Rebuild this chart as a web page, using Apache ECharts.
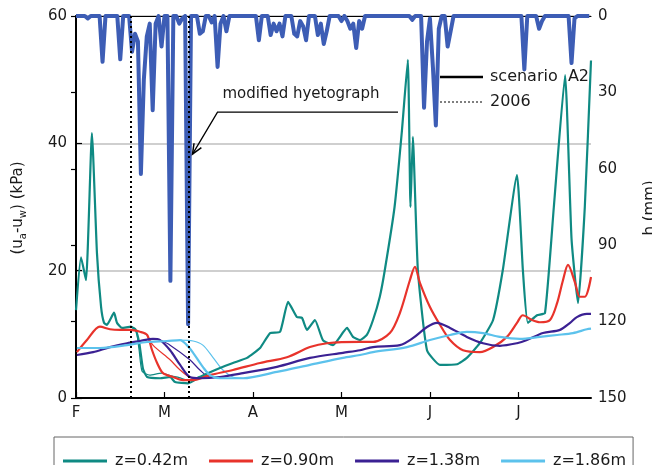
<!DOCTYPE html>
<html><head><meta charset="utf-8">
<script src="https://cdn.jsdelivr.net/npm/echarts@6/dist/echarts.min.js"></script>
<style>html,body{margin:0;padding:0;background:#fff}#c{width:652px;height:465px}</style>
</head><body><div id="c"></div><script>
// Month labels (one tick every 30 days starting 1 Feb)
const monthLabels = ['F', 'M', 'A', 'M', 'J', 'J'];

// Daily rainfall h (mm), day 0 = 1 Feb
const rainDaily = [
  0, 0, 0, 0, 1, 0, 0, 0, 0, 18,
  0, 0, 0, 0, 0, 17, 0, 0, 0, 14,
  7, 10, 62, 25, 8, 3, 37, 3, 0, 12,
  0, 0, 104, 0, 0, 3, 1, 0, 121, 0,
  0, 0, 7, 6, 0, 0, 2.5, 0, 20, 3,
  0, 6, 0, 0, 0, 0, 0, 0, 0, 0,
  0, 0, 9.5, 0, 0, 0, 7.5, 3, 6, 3,
  8, 0, 0, 0, 7, 8, 2, 4, 9.5, 0,
  0, 0, 7.5, 3, 11, 6, 0, 0, 0, 0,
  2, 0, 2, 5, 3, 12.6, 2, 5, 0, 0,
  0, 0, 0, 0, 0, 0, 0, 0, 0, 0,
  0, 0, 0, 0, 1.5, 0, 0, 0, 36, 10,
  1, 20, 43, 5, 0, 0, 12, 6, 0, 0,
  0, 0, 0, 0, 0, 0, 0, 0, 0, 0,
  0, 0, 0, 0, 0, 0, 0, 0, 0, 0,
  0, 0, 21, 0, 0, 0, 0, 5, 2, 0,
  0, 0, 0, 0, 0, 0, 0, 0, 18.5, 1,
  0, 0, 0, 0, 0
];

// Matric suction (kPa) at each depth: [day, value]
const suction042 = [
  [0, 13.8], [1.7, 22.1], [3.4, 18.5], [5.4, 41.6], [7.1, 22.8], [8.5, 14.3], [9.5, 11.8], [10.5, 11.5],
  [12.9, 13.4], [13.9, 11.8], [15.6, 11.0], [18.6, 11.2], [20.3, 10.6], [21.5, 8.5], [22.7, 4.6], [24.1, 3.3],
  [28.5, 3.1], [31.9, 3.3], [33.6, 2.5], [38, 2.3], [42, 3.3], [48.8, 4.7], [53.2, 5.5], [58, 6.3],
  [62.4, 7.85], [65.8, 10.2], [69.2, 10.4], [71.9, 15.1], [74.9, 12.7], [76.6, 12.6], [78.3, 10.7], [81, 12.25],
  [83.7, 9.1], [87.1, 8.3], [91.9, 11.0], [93.9, 9.6], [96.3, 9.1], [98.6, 9.9], [100.7, 12.25], [103, 15.9],
  [104.7, 20.1], [108, 30], [110.5, 42], [112.5, 53.1], [113.4, 30], [114.2, 41], [115.9, 20.1], [119, 7.5],
  [123.4, 5.2], [129.2, 5.3], [132.5, 6.3], [136.9, 8.6], [141.4, 12.25], [144.7, 20.1], [149.5, 35],
  [151.5, 20.1], [153.2, 11.8], [156.3, 13.0], [159, 13.35], [162, 30], [165.8, 50.7], [168, 25],
  [170.2, 14.9], [172.5, 30], [174.6, 53]
];
const suction042b = [
  [18.6, 11.2], [20.3, 10.8], [21.4, 7.5], [22.4, 4.2], [25, 3.6], [29, 3.9], [32, 3.5], [35, 3.2],
  [38, 2.8], [42, 3.4]
];
const suction090 = [
  [0.3, 7.2], [3.7, 9.1], [8.1, 11.2], [11.5, 10.8], [14.9, 10.7], [18.3, 10.7], [21.7, 10.4], [24.1, 9.9],
  [25.8, 7.5], [27.5, 5.5], [29.5, 3.9], [32.9, 3.3], [36.3, 2.8], [39.7, 2.8], [45.4, 3.6], [53.2, 4.4],
  [62.4, 5.5], [71.5, 6.4], [79.3, 8.0], [85.1, 8.6], [96.3, 8.8], [100.7, 8.8], [106.4, 10.2], [109.8, 13.35],
  [113.2, 18.5], [114.9, 20.6], [116.6, 18.1], [120, 14.3], [123.4, 11.5], [126.8, 9.1], [131.2, 7.5],
  [136.9, 7.2], [141.4, 8.0], [146.1, 9.6], [149.5, 11.8], [151.5, 13.0], [154.6, 12.25], [157.3, 11.9],
  [160.7, 12.25], [163.1, 14.9], [165.1, 18.5], [166.8, 20.9], [169.2, 18.1], [170.8, 15.9], [172.5, 15.9],
  [174.6, 19]
];
const suction090b = [
  [24.1, 9.9], [26.1, 8.3], [31.9, 6.0], [35.3, 4.4], [39.7, 3.1], [45.4, 3.6]
];
const suction138 = [
  [0.3, 6.75], [5.8, 7.2], [11.5, 8.0], [17.3, 8.6], [21.7, 8.95], [26.1, 9.3], [28.5, 9.1], [31.9, 7.5],
  [35.3, 5.2], [38.6, 3.3], [42, 3.1], [48.8, 3.3], [56.6, 3.9], [68.1, 4.9], [79.3, 6.3], [90.5, 7.1],
  [96.3, 7.5], [100.7, 8.0], [109.8, 8.3], [114.2, 9.4], [119, 11.15], [122.4, 11.8], [126.8, 11.0],
  [132.5, 9.6], [138, 8.6], [143.7, 8.2], [149.5, 8.6], [152.9, 9.1], [158.3, 10.2], [164.1, 10.7],
  [167.5, 11.8], [169.8, 12.7], [173.2, 13.2], [174.6, 13.2]
];
const suction138b = [
  [28.5, 9.1], [31.9, 8.3], [38.6, 6.0], [42, 4.4], [45.4, 3.3], [48.8, 3.3]
];
const suction186 = [
  [0.3, 7.85], [8.1, 7.85], [17.3, 8.3], [24.1, 8.8], [30.8, 8.95], [35.3, 9.1], [37.6, 8.3], [39.7, 7.1],
  [43, 4.9], [45.4, 3.6], [48.8, 3.1], [56.6, 3.1], [68.1, 4.1], [79.3, 5.2], [90.5, 6.3], [96.3, 6.75],
  [100.7, 7.2], [112.2, 8.0], [120, 9.1], [126.8, 9.9], [132.5, 10.4], [138, 10.2], [143.7, 9.6],
  [150.5, 9.3], [157.3, 9.6], [163.1, 9.9], [168.5, 10.2], [173.2, 10.8], [174.6, 10.9]
];
const suction186b = [
  [35.3, 9.1], [39.7, 8.95], [43, 8.3], [46.4, 6.4], [49.8, 4.4], [53.2, 3.3], [56.6, 3.1]
];

// Days marked by dotted vertical lines
const eventDays = [18.6, 38.3];

const FONT = 'DejaVu Sans';
const INK = '#1a1a1a';
const COLORS = { z042: '#0f8a83', z090: '#e8332b', z138: '#3b2193', z186: '#5cc2ec', rain: '#3d5db5' };

const chart = echarts.init(document.getElementById('c'), null, { renderer: 'canvas' });

function curve(name, data, color, width, smooth, z) {
  return {
    type: 'line', name: name, data: data, xAxisIndex: 0, yAxisIndex: 0,
    symbol: 'none', smooth: smooth, z: z,
    lineStyle: { color: color, width: width, join: 'round' },
    itemStyle: { color: color }
  };
}

chart.setOption({
  animation: false,
  backgroundColor: '#fff',
  grid: { left: 76, right: 61, top: 16, bottom: 67 },
  xAxis: [
    {
      type: 'value', min: 0, max: 174.6, interval: 30,
      axisLine: { lineStyle: { color: '#000', width: 2 } },
      axisTick: { inside: true, length: 6, lineStyle: { color: '#000', width: 1.2 } },
      axisLabel: {
        showMaxLabel: false, margin: 8, color: INK, fontSize: 15, fontFamily: FONT,
        formatter: v => (v % 30 === 0 && monthLabels[v / 30]) ? monthLabels[v / 30] : ''
      },
      splitLine: { show: false }
    },
    {
      type: 'value', position: 'top', min: 0, max: 174.6,
      axisLine: { show: true, lineStyle: { color: '#000', width: 1 } },
      axisTick: { show: false }, axisLabel: { show: false }, splitLine: { show: false }
    }
  ],
  yAxis: [
    {
      type: 'value', min: 0, max: 60, interval: 20,
      axisLine: { show: true, lineStyle: { color: '#000', width: 2 } },
      axisTick: { show: true, inside: true, length: 6, lineStyle: { color: '#000', width: 1.2 } },
      axisLabel: { margin: 9, color: INK, fontSize: 15, fontFamily: FONT },
      splitLine: { show: true, lineStyle: { color: '#cfcfcf', width: 2 } }
    },
    {
      type: 'value', position: 'right', inverse: true, min: 0, max: 150, interval: 30,
      axisLine: { show: true, lineStyle: { color: '#000', width: 1.5 } },
      axisTick: { show: true, inside: true, length: 5, lineStyle: { color: '#000', width: 1.2 } },
      axisLabel: { margin: 7, color: INK, fontSize: 15, fontFamily: FONT },
      splitLine: { show: false }
    }
  ],
  legend: {
    data: ['z=0.42m', 'z=0.90m', 'z=1.38m', 'z=1.86m'].map(n => ({ name: n, icon: 'rect' })),
    left: 54, top: 437, orient: 'horizontal',
    itemWidth: 44, itemHeight: 3, itemGap: 21,
    padding: [16, 7, 20, 9],
    borderColor: '#666', borderWidth: 1,
    textStyle: { fontSize: 16, fontFamily: FONT, color: INK, padding: [0, 0, 0, 3] }
  },
  series: [
    {
      type: 'line', name: 'rain', xAxisIndex: 0, yAxisIndex: 1,
      data: rainDaily.map((v, i) => [i, v]),
      symbol: 'none', z: 1,
      lineStyle: { color: COLORS.rain, width: 4, join: 'round' }
    },
    curve('z=0.42m (modified)', suction042b, COLORS.z042, 1.2, 0.2, 2),
    curve('z=0.90m (modified)', suction090b, COLORS.z090, 1.2, 0.3, 2),
    curve('z=1.38m (modified)', suction138b, COLORS.z138, 1.2, 0.3, 2),
    curve('z=1.86m (modified)', suction186b, COLORS.z186, 1.2, 0.3, 2),
    curve('z=0.42m', suction042, COLORS.z042, 2.2, 0.15, 3),
    curve('z=0.90m', suction090, COLORS.z090, 2.2, 0.3, 3),
    curve('z=1.38m', suction138, COLORS.z138, 2.2, 0.3, 3),
    curve('z=1.86m', suction186, COLORS.z186, 2.2, 0.3, 3),
    {
      type: 'line', name: 'events', data: [], z: 5,
      markLine: {
        silent: true, symbol: 'none', label: { show: false },
        lineStyle: { color: '#000', width: 2, type: [2, 3] },
        data: eventDays.map(d => ({ xAxis: d }))
      }
    }
  ]
});

// Annotations: axis titles, line-style key and the arrow to the modified hyetograph
const tip = chart.convertToPixel({ xAxisIndex: 0, yAxisIndex: 0 }, [eventDays[1] + 1.2, 38.3]);
const elbow = [tip[0] + 25, tip[1] - 42];
const lineEnd = [398, elbow[1]];
const ux = (tip[0] - elbow[0]), uy = (tip[1] - elbow[1]);
const len = Math.hypot(ux, uy);
const dx = ux / len, dy = uy / len;
const headLen = 11, ang = 0.4;
function rot(x, y, a) { return [x * Math.cos(a) - y * Math.sin(a), x * Math.sin(a) + y * Math.cos(a)]; }
const h1 = rot(-dx, -dy, ang), h2 = rot(-dx, -dy, -ang);

chart.setOption({
  graphic: [
    {
      type: 'text', x: 18, y: 208, rotation: Math.PI / 2, z: 10,
      style: {
        text: '{m|(u}{s|a}{m|-u}{s|w}{m|) (kPa)}',
        align: 'center', verticalAlign: 'middle', textAlign: 'center', textVerticalAlign: 'middle',
        rich: {
          m: { fontSize: 15, fontFamily: FONT, fill: INK, color: INK, lineHeight: 20, verticalAlign: 'middle' },
          s: { fontSize: 10, fontFamily: FONT, fill: INK, color: INK, lineHeight: 10, verticalAlign: 'bottom' }
        }
      }
    },
    {
      type: 'text', x: 650, y: 208, rotation: Math.PI / 2, z: 10,
      style: {
        text: 'h (mm)', fontSize: 15, fontFamily: FONT, fill: INK,
        align: 'center', verticalAlign: 'middle', textAlign: 'center', textVerticalAlign: 'middle'
      }
    },
    {
      type: 'polyline', z: 10, silent: true,
      shape: { points: [lineEnd, elbow, tip] },
      style: { stroke: '#000', lineWidth: 1.3, fill: null }
    },
    {
      type: 'polyline', z: 10, silent: true,
      shape: { points: [
        [tip[0] + h1[0] * headLen, tip[1] + h1[1] * headLen], tip,
        [tip[0] + h2[0] * headLen, tip[1] + h2[1] * headLen]
      ] },
      style: { stroke: '#000', lineWidth: 1.5, fill: null }
    },
    {
      type: 'text', x: 301, y: 94, z: 10,
      style: {
        text: 'modified hyetograph', fontSize: 15, fontFamily: FONT, fill: INK,
        align: 'center', verticalAlign: 'middle', textAlign: 'center', textVerticalAlign: 'middle'
      }
    },
    {
      type: 'line', z: 10, silent: true,
      shape: { x1: 440, y1: 77, x2: 483, y2: 77 },
      style: { stroke: '#000', lineWidth: 2.5 }
    },
    {
      type: 'text', x: 490, y: 77, z: 10,
      style: {
        text: 'scenario  A2', fontSize: 16, fontFamily: FONT, fill: INK,
        align: 'left', verticalAlign: 'middle', textAlign: 'left', textVerticalAlign: 'middle'
      }
    },
    {
      type: 'line', z: 10, silent: true,
      shape: { x1: 440, y1: 102, x2: 483, y2: 102 },
      style: { stroke: '#000', lineWidth: 1.2, lineDash: [2, 2] }
    },
    {
      type: 'text', x: 490, y: 102, z: 10,
      style: {
        text: '2006', fontSize: 16, fontFamily: FONT, fill: INK,
        align: 'left', verticalAlign: 'middle', textAlign: 'left', textVerticalAlign: 'middle'
      }
    }
  ]
});
</script></body></html>
